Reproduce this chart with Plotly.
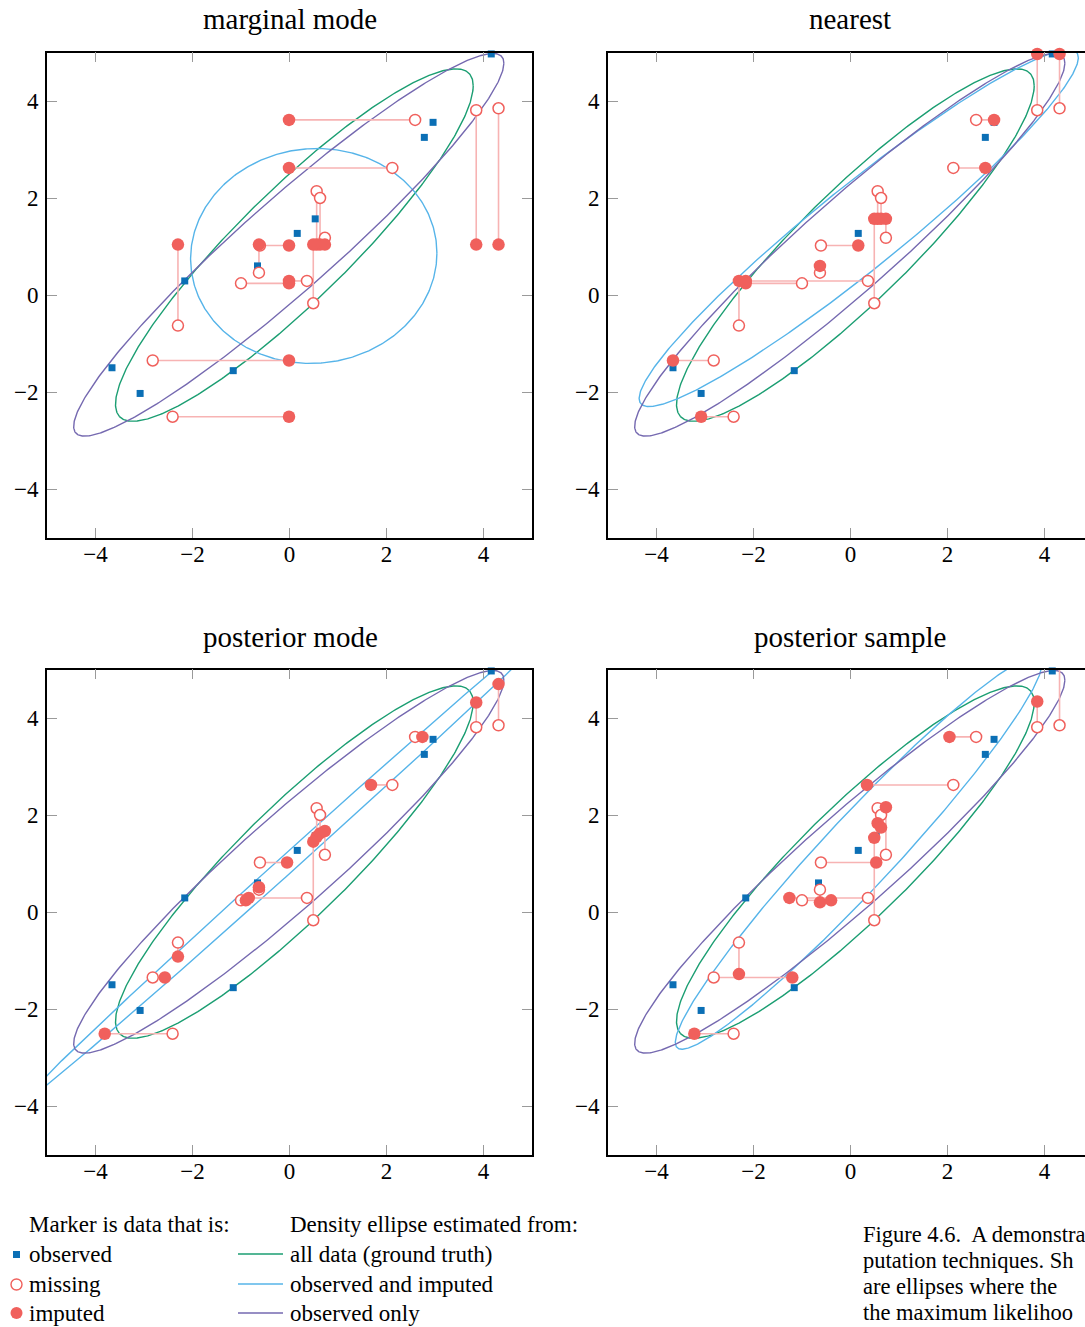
import numpy as np
import plotly.graph_objects as go

# ---------------- data ----------------
obs_x = [4.16, 2.96, 2.78, 0.53, 0.16, -0.66, -2.16, -3.66, -3.08, -1.16]
obs_y = [4.97, 3.56, 3.25, 1.57, 1.27, 0.60, 0.29, -1.50, -2.03, -1.56]

miss_x = [2.59, 3.85, 4.31, 2.12, 0.56, 0.63, 0.73, -0.63, -0.61, -1.00, 0.36, -2.30, 0.49, -2.82, -2.41]
miss_y = [3.61, 3.81, 3.85, 2.62, 2.14, 2.00, 1.18, 0.46, 1.02, 0.24, 0.29, -0.63, -0.17, -1.35, -2.51]

imp_marg_x = [-0.01, 3.85, 4.31, -0.01, 0.56, 0.63, 0.73, -0.63, -0.01, -0.01, -0.01, -2.30, 0.49, -0.01, -0.01]
imp_marg_y = [3.61, 1.04, 1.04, 2.62, 1.04, 1.04, 1.04, 1.04, 1.02, 0.24, 0.29, 1.04, 1.04, -1.35, -2.51]

imp_near_x = [2.96, 3.85, 4.31, 2.78, 0.56, 0.63, 0.73, -0.63, 0.16, -2.16, -2.16, -2.30, 0.49, -3.66, -3.08]
imp_near_y = [3.61, 4.97, 4.97, 2.62, 1.57, 1.57, 1.57, 0.60, 1.02, 0.24, 0.29, 0.29, 1.57, -1.35, -2.51]

imp_pmode_x = [2.74, 3.85, 4.31, 1.68, 0.56, 0.63, 0.73, -0.63, -0.05, -0.90, -0.84, -2.30, 0.49, -2.57, -3.81]
imp_pmode_y = [3.61, 4.32, 4.70, 2.62, 1.55, 1.62, 1.67, 0.51, 1.02, 0.24, 0.29, -0.92, 1.45, -1.35, -2.51]

imp_psamp_x = [2.04, 3.85, 4.31, 0.34, 0.56, 0.63, 0.73, -0.63, 0.53, -0.40, -1.26, -2.30, 0.49, -1.20, -3.22]
imp_psamp_y = [3.61, 4.34, 5.60, 2.62, 1.83, 1.74, 2.16, 0.20, 1.02, 0.24, 0.29, -1.28, 1.53, -1.35, -2.51]

# density ellipses: centre and covariance (sxx, sxy, syy)
ell_truth_c = [0.10, 1.03]
ell_truth_cov = [13.6, 12.1, 13.2]
ell_obs_c = [-0.015, 1.035]
ell_obs_cov = [19.67, 16.6, 15.56]
ell_marg_c = [0.50, 0.805]
ell_marg_cov = [6.45, 0.15, 4.91]
ell_near_c = [0.17, 1.38]
ell_near_cov = [20.5, 15.9, 13.54]
ell_pmode_c = [0.15, 1.17]
ell_pmode_cov = [32.0, 28.8, 25.98]
ell_psamp_c = [0.17, 1.22]
ell_psamp_cov = [14.3, 14.77, 16.4]

panel_titles = ["marginal mode", "nearest", "posterior mode", "posterior sample"]
tick_vals = [-4, -2, 0, 2, 4]
tick_text = ["\u22124", "\u22122", "0", "2", "4"]

legend_marker_head = "Marker is data that is:"
legend_marker_items = ["observed", "missing", "imputed"]
legend_ell_head = "Density ellipse estimated from:"
legend_ell_items = ["all data (ground truth)", "observed and imputed", "observed only"]
# caption as visible in the (cropped) reference
caption_lines = ["Figure 4.6.  A demonstra",
                 "putation techniques. Sh",
                 "are ellipses where the",
                 "the maximum likelihoo"]

# ---------------- styling ----------------
W, H = 1085, 1327
FONT = "Liberation Serif"
C_RED = "#f0605c"
C_PINK = "#f7b3b3"
C_BLUE_OBS = "#0b6fb5"
C_GREEN = "#1b9e72"
C_SKY = "#56b4e9"
C_PURPLE = "#7569b0"


def px(x):
    return x / W


def py(y):
    return 1 - y / H


def ellipse(c, cov, n=500):
    S = np.array([[cov[0], cov[1]], [cov[1], cov[2]]])
    L = np.linalg.cholesky(S)
    t = np.linspace(0, 2 * np.pi, n)
    pts = L @ np.vstack([np.cos(t), np.sin(t)])
    return pts[0] + c[0], pts[1] + c[1]


panels = [
    dict(ix=imp_marg_x, iy=imp_marg_y, ec=ell_marg_c, ecov=ell_marg_cov, clip=False),
    dict(ix=imp_near_x, iy=imp_near_y, ec=ell_near_c, ecov=ell_near_cov, clip=False),
    dict(ix=imp_pmode_x, iy=imp_pmode_y, ec=ell_pmode_c, ecov=ell_pmode_cov, clip=False),
    dict(ix=imp_psamp_x, iy=imp_psamp_y, ec=ell_psamp_c, ecov=ell_psamp_cov, clip=True),
]

# pixel geometry of the four plot boxes (left, top); 48.5 px per unit
box_left = [47, 608, 47, 608]
box_top = [52.5, 52.5, 669.5, 669.5]
SIDE = 485

fig = go.Figure()

for i, p in enumerate(panels):
    xa = "x" if i == 0 else f"x{i+1}"
    ya = "y" if i == 0 else f"y{i+1}"
    common = dict(xaxis=xa, yaxis=ya, showlegend=False, hoverinfo="skip")
    # ellipses
    for c, cov, col in [(ell_truth_c, ell_truth_cov, C_GREEN),
                        (p["ec"], p["ecov"], C_SKY),
                        (ell_obs_c, ell_obs_cov, C_PURPLE)]:
        ex, ey = ellipse(c, cov)
        fig.add_trace(go.Scatter(x=ex, y=ey, mode="lines",
                                 line=dict(color=col, width=1.4), **common))
    # connectors
    cx, cy = [], []
    for mx, my, ix, iy in zip(miss_x, miss_y, p["ix"], p["iy"]):
        cx += [mx, ix, None]
        cy += [my, iy, None]
    fig.add_trace(go.Scatter(x=cx, y=cy, mode="lines",
                             line=dict(color=C_PINK, width=1.6), **common))
    # observed
    fig.add_trace(go.Scatter(x=obs_x, y=obs_y, mode="markers", cliponaxis=False,
                             marker=dict(symbol="square", size=7, color=C_BLUE_OBS,
                                         line=dict(width=0)), **common))
    # missing (true values)
    fig.add_trace(go.Scatter(x=miss_x, y=miss_y, mode="markers", cliponaxis=False,
                             marker=dict(symbol="circle", size=11, color="white",
                                         line=dict(color=C_RED, width=1.5)), **common))
    # imputed
    fig.add_trace(go.Scatter(x=p["ix"], y=p["iy"], mode="markers", cliponaxis=p["clip"],
                             marker=dict(symbol="circle", size=12.5, color=C_RED,
                                         line=dict(width=0)), **common))

axis_common = dict(showgrid=False, zeroline=False, ticks="inside", ticklen=10,
                   tickwidth=1.3, tickcolor="#9a9a9a", showline=True,
                   linecolor="black", linewidth=1.6, tickvals=tick_vals,
                   ticktext=tick_text, tickfont=dict(family=FONT, size=23, color="black"))

layout = dict(width=W, height=H, autosize=False,
              margin=dict(l=0, r=0, t=0, b=0),
              paper_bgcolor="white", plot_bgcolor="white",
              font=dict(family=FONT, color="black"))

for i in range(4):
    l, t = box_left[i], box_top[i]
    r = min(l + SIDE, W)
    xr = [-5, -5 + (r - l) / 48.5]
    xname = "xaxis" if i == 0 else f"xaxis{i+1}"
    yname = "yaxis" if i == 0 else f"yaxis{i+1}"
    right_panel = i in (1, 3)
    layout[xname] = dict(axis_common, domain=[px(l), px(r)], range=xr,
                         anchor="y" if i == 0 else f"y{i+1}", mirror="allticks",
                         ticklabelstandoff=-5)
    layout[yname] = dict(axis_common, domain=[py(t + SIDE), py(t)], range=[-5, 5],
                         anchor="x" if i == 0 else f"x{i+1}",
                         mirror=False if right_panel else "allticks",
                         ticklabelstandoff=2)

annotations = []
shapes = []
title_pos = [(290, 19), (850, 19), (290, 637), (850, 637)]
for (tx, ty), txt in zip(title_pos, panel_titles):
    annotations.append(dict(text=txt, x=px(tx), y=py(ty), xref="paper", yref="paper",
                            xanchor="center", yanchor="middle", showarrow=False,
                            font=dict(family=FONT, size=29, color="black")))

# legend block
leg_font = dict(family=FONT, size=23, color="black")
annotations.append(dict(text=legend_marker_head, x=px(27), y=py(1224), xref="paper", yref="paper",
                        xanchor="left", yanchor="middle", showarrow=False, font=leg_font))
annotations.append(dict(text=legend_ell_head, x=px(288), y=py(1224), xref="paper", yref="paper",
                        xanchor="left", yanchor="middle", showarrow=False, font=leg_font))
rows = [1254, 1284, 1313]
for yy, mt, et in zip(rows, legend_marker_items, legend_ell_items):
    annotations.append(dict(text=mt, x=px(27), y=py(yy), xref="paper", yref="paper",
                            xanchor="left", yanchor="middle", showarrow=False, font=leg_font))
    annotations.append(dict(text=et, x=px(288), y=py(yy), xref="paper", yref="paper",
                            xanchor="left", yanchor="middle", showarrow=False, font=leg_font))
for yy, col in zip(rows, [C_GREEN, C_SKY, C_PURPLE]):
    shapes.append(dict(type="line", xref="paper", yref="paper", x0=px(238), x1=px(283),
                       y0=py(yy), y1=py(yy), line=dict(color=col, width=1.4)))
shapes.append(dict(type="rect", xref="paper", yref="paper", x0=px(13), x1=px(20),
                   y0=py(1251), y1=py(1258), fillcolor=C_BLUE_OBS, line=dict(width=0)))
shapes.append(dict(type="circle", xref="paper", yref="paper", x0=px(11), x1=px(22),
                   y0=py(1279), y1=py(1290), fillcolor="white", line=dict(color=C_RED, width=1.4)))
shapes.append(dict(type="circle", xref="paper", yref="paper", x0=px(10.5), x1=px(22.5),
                   y0=py(1307), y1=py(1319), fillcolor=C_RED, line=dict(width=0)))

cap_y = [1234, 1260, 1286, 1312]
for yy, txt in zip(cap_y, caption_lines):
    annotations.append(dict(text=txt, x=px(861), y=py(yy), xref="paper", yref="paper",
                            xanchor="left", yanchor="middle", showarrow=False,
                            font=dict(family=FONT, size=22.5, color="black")))

layout["annotations"] = annotations
layout["shapes"] = shapes
fig.update_layout(**layout)

fig.write_html("out.html", config={"displayModeBar": False},
               post_script="document.body.style.margin='0px';document.body.style.overflow='hidden';")
